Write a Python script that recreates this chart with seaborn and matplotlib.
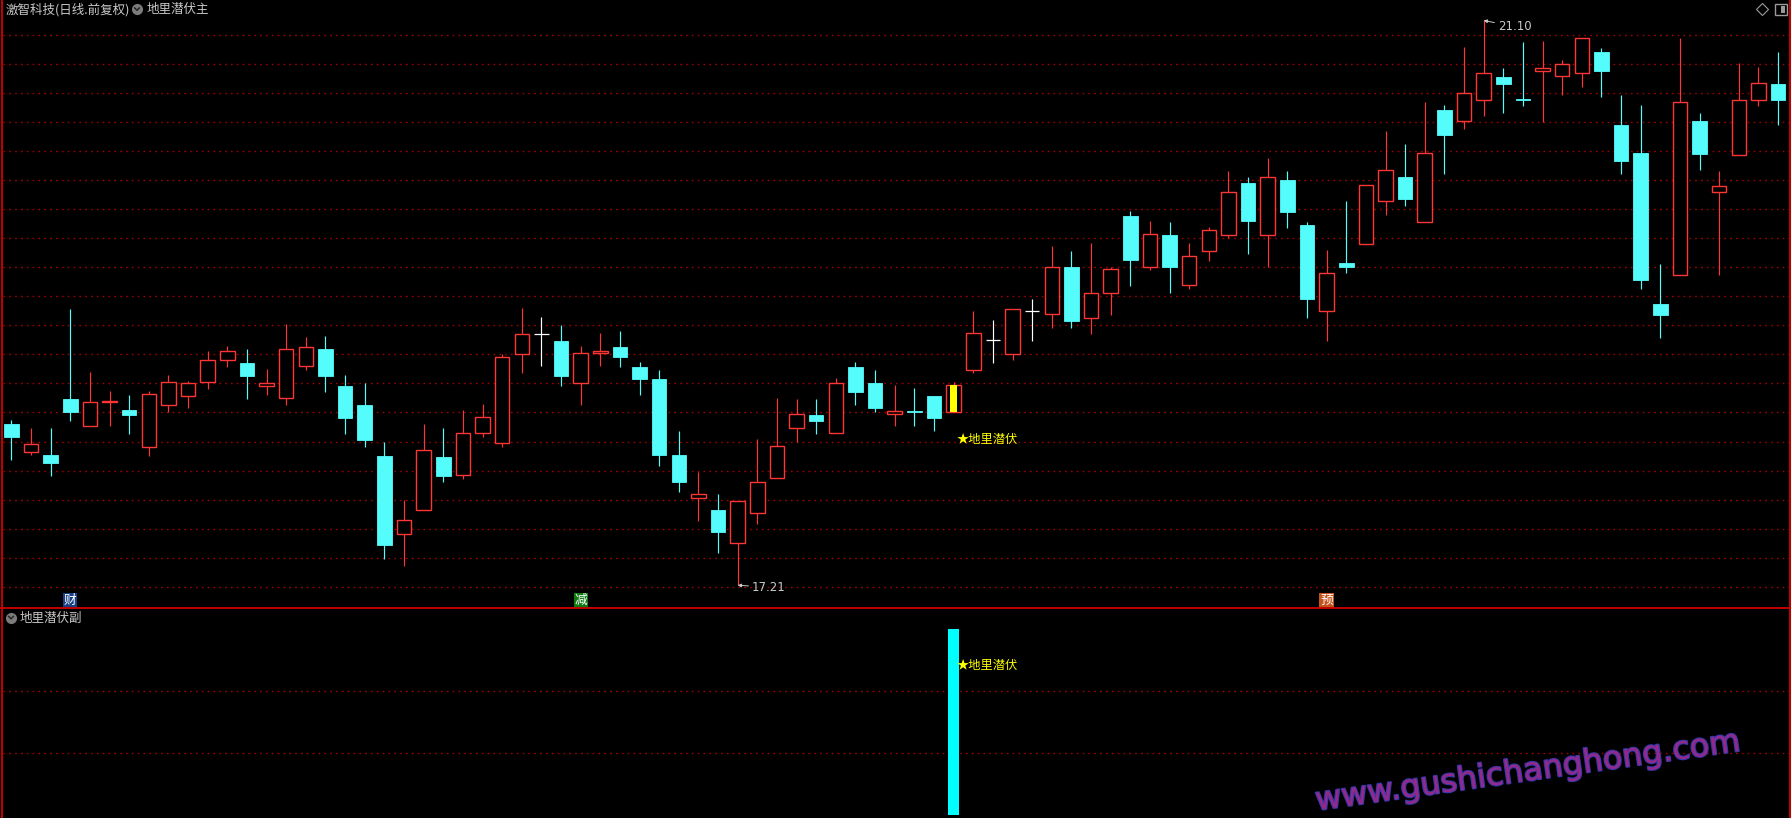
import numpy as np
import pandas as pd
import matplotlib
matplotlib.use("Agg")
import matplotlib.pyplot as plt
import seaborn as sns
from matplotlib.lines import Line2D
from matplotlib.patches import Rectangle
import matplotlib.patheffects as pe

# ---------------- data ----------------
opens = [18.32, 18.13, 18.11, 18.49, 18.31, 18.47, 18.42, 18.16, 18.45, 18.51,
         18.61, 18.76, 18.74, 18.58, 18.50, 18.72, 18.84, 18.58, 18.45, 18.10,
         17.56, 17.73, 18.09, 17.97, 18.26, 18.19, 18.80, 18.94, 18.89, 18.60,
         18.81, 18.85, 18.71, 18.63, 18.11, 17.81, 17.73, 17.50, 17.71, 17.95,
         18.29, 18.38, 18.26, 18.71, 18.60, 18.39, 18.41, 18.51, 18.40, 18.69,
         18.90, 18.80, 19.10, 19.08, 19.40, 19.05, 19.22, 19.75, 19.40, 19.62,
         19.28, 19.51, 19.62, 19.98, 19.62, 20.00, 19.69, 19.10, 19.43, 19.56,
         19.86, 20.02, 19.71, 20.48, 20.41, 20.55, 20.71, 20.56, 20.75, 20.72,
         20.74, 20.88, 20.38, 20.19, 19.15, 19.35, 20.41, 19.92, 20.17, 20.55,
         20.66]
highs = [18.35, 18.29, 18.29, 19.11, 18.68, 18.55, 18.52, 18.55, 18.66, 18.62,
         18.82, 18.86, 18.84, 18.70, 19.01, 18.92, 18.93, 18.66, 18.60, 18.20,
         17.80, 18.32, 18.29, 18.42, 18.46, 18.80, 19.12, 19.06, 19.00, 18.86,
         18.95, 18.96, 18.75, 18.69, 18.27, 17.99, 17.84, 17.79, 18.22, 18.50,
         18.49, 18.49, 18.64, 18.75, 18.69, 18.59, 18.57, 18.51, 18.61, 19.10,
         19.04, 19.11, 19.18, 19.55, 19.51, 19.57, 19.40, 19.79, 19.72, 19.71,
         19.57, 19.68, 20.06, 20.02, 20.15, 20.06, 19.71, 19.52, 19.86, 19.97,
         20.34, 20.25, 20.54, 20.52, 20.92, 21.10, 20.77, 20.95, 20.96, 20.83,
         20.98, 20.91, 20.59, 20.52, 19.42, 20.98, 20.46, 20.06, 20.81, 20.78,
         20.88]
lows = [18.07, 18.11, 17.96, 18.34, 18.31, 18.31, 18.25, 18.10, 18.40, 18.43,
        18.56, 18.71, 18.49, 18.52, 18.45, 18.69, 18.54, 18.25, 18.16, 17.39,
        17.34, 17.73, 17.92, 17.94, 18.23, 18.16, 18.67, 18.72, 18.58, 18.45,
        18.72, 18.71, 18.52, 18.03, 17.85, 17.65, 17.43, 17.21, 17.63, 17.95,
        18.20, 18.25, 18.26, 18.45, 18.40, 18.31, 18.31, 18.27, 18.40, 18.67,
        18.74, 18.76, 18.89, 18.98, 18.98, 18.94, 19.07, 19.27, 19.38, 19.22,
        19.25, 19.44, 19.60, 19.49, 19.40, 19.67, 19.05, 18.89, 19.36, 19.56,
        19.76, 19.82, 19.71, 20.04, 20.35, 20.44, 20.46, 20.51, 20.40, 20.59,
        20.64, 20.57, 20.04, 19.25, 18.91, 19.35, 20.07, 19.35, 20.17, 20.51,
        20.38]
closes = [18.23, 18.18, 18.05, 18.40, 18.47, 18.48, 18.38, 18.53, 18.61, 18.60,
          18.76, 18.82, 18.65, 18.60, 18.84, 18.85, 18.65, 18.36, 18.21, 17.49,
          17.66, 18.14, 17.96, 18.26, 18.37, 18.78, 18.94, 18.94, 18.65, 18.81,
          18.82, 18.78, 18.63, 18.11, 17.92, 17.84, 17.58, 17.79, 17.92, 18.17,
          18.39, 18.34, 18.60, 18.54, 18.43, 18.41, 18.40, 18.36, 18.59, 18.95,
          18.90, 19.11, 19.10, 19.40, 19.03, 19.22, 19.39, 19.45, 19.63, 19.40,
          19.48, 19.66, 19.92, 19.72, 20.02, 19.78, 19.18, 19.36, 19.40, 19.97,
          20.07, 19.87, 20.19, 20.31, 20.60, 20.74, 20.66, 20.55, 20.77, 20.80,
          20.98, 20.75, 20.13, 19.31, 19.07, 20.54, 20.18, 19.96, 20.55, 20.67,
          20.55]

signal_x = [48]          # candle carrying the 地里潜伏 signal
signal_val = [3]         # sub-panel bar height
mark_idx = [3, 29, 67]
mark_text = ["财", "减", "预"]
mark_bg = ["#173f86", "#0f7a14", "#c4521c"]
max_idx, max_label = 75, "21.10"
min_idx, min_label = 37, "17.21"
grid_levels = [17.2, 17.4, 17.6, 17.8, 18.0, 18.2, 18.4, 18.6, 18.8, 19.0,
               19.2, 19.4, 19.6, 19.8, 20.0, 20.2, 20.4, 20.6, 20.8, 21.0]
sub_grid = [1, 2]

df = pd.DataFrame({"open": opens, "high": highs, "low": lows, "close": closes})
df["x"] = np.arange(len(df))

# ---------------- style ----------------
sns.set_theme(style="dark", rc={"axes.facecolor": "black", "figure.facecolor": "black",
                                "savefig.facecolor": "black"})
CJK = ["Noto Sans CJK SC", "DejaVu Sans"]
plt.rcParams["font.family"] = CJK
plt.rcParams["axes.unicode_minus"] = False

W, H = 1791, 818
fig = plt.figure(figsize=(W / 100, H / 100), dpi=100, facecolor="black")


def fx(x):
    return x / W


def fy(y):
    return 1 - y / H


RED = "#ff3434"
CYAN = "#54fcfc"
GRID = "#a00000"
BORDER = "#c40000"
TXT = "#c8c8c8"

ax = fig.add_axes([fx(3), fy(608), fx(1789) - fx(3), fy(18) - fy(608)])
ax2 = fig.add_axes([fx(3), 0, fx(1789) - fx(3), fy(609)])

for a in (ax, ax2):
    a.set_facecolor("black")
    for s in a.spines.values():
        s.set_visible(False)
    a.tick_params(left=False, bottom=False, labelleft=False, labelbottom=False)

# ---------------- candles ----------------
up = df["close"] > df["open"]
down = df["close"] < df["open"]
flat = df["close"] == df["open"]
wick_colors = np.where(up, RED, np.where(down, CYAN, "#ffffff"))
ax.vlines(df["x"], df["low"], df["high"], colors=wick_colors, linewidth=0.85, zorder=2)

bw = 0.74
bottom = df[["open", "close"]].min(axis=1)
height = (df["close"] - df["open"]).abs()
ax.bar(df["x"][up], height[up], bottom=bottom[up], width=bw, facecolor="black",
       edgecolor=RED, linewidth=1.0, zorder=3)
ax.bar(df["x"][down], height[down], bottom=bottom[down], width=bw, facecolor=CYAN,
       edgecolor=CYAN, linewidth=0.6, zorder=3)
ax.bar(df["x"][flat], height[flat], bottom=bottom[flat], width=bw, facecolor="white",
       edgecolor="white", linewidth=0.9, zorder=3)
# highlighted signal candle
sx = signal_x[0]
ax.bar(sx, closes[sx] - opens[sx], bottom=opens[sx], width=0.34, color="#ffff00",
       linewidth=0, zorder=4)

ax.set_yticks(grid_levels)
ax.grid(False)
for v in grid_levels:
    ax.axhline(v, color=GRID, linestyle=(0, (1.2, 3.0)), linewidth=1.0, zorder=1)

ax.set_xlim((3 - 11.4) / 19.63, (1789 - 11.4) / 19.63)
ax.set_ylim(21.0 - (608 - 35) / 145.18, 21.0 + (35 - 18) / 145.18)

# max / min labels
ax.annotate(max_label, xy=(max_idx, highs[max_idx]), xytext=(14, -6),
            textcoords="offset pixels", ha="left", va="center", color=TXT,
            fontsize=8.5, family="DejaVu Sans",
            arrowprops=dict(arrowstyle="-|>", color=TXT, lw=0.7, mutation_scale=5,
                            shrinkA=0, shrinkB=0), zorder=6)
ax.annotate(min_label, xy=(min_idx, lows[min_idx]), xytext=(14, -2),
            textcoords="offset pixels", ha="left", va="center", color=TXT,
            fontsize=8.5, family="DejaVu Sans",
            arrowprops=dict(arrowstyle="-|>", color=TXT, lw=0.7, mutation_scale=5,
                            shrinkA=0, shrinkB=0), zorder=6)

# signal text in main panel
ax.text(sx + 0.17, 21.0 - (440 - 35) / 145.18, "★地里潜伏", color="#ffff00",
        fontsize=8.8, ha="left", va="center", family=CJK, zorder=6)

# bottom badges
for i, t, c in zip(mark_idx, mark_text, mark_bg):
    ax.text(i, 21.0 - (600.5 - 35) / 145.18, t, color="white", fontsize=9.2,
            ha="center", va="center", family=CJK, zorder=6,
            bbox=dict(boxstyle="square,pad=0.06", facecolor=c, edgecolor="none"))

# ---------------- sub panel ----------------
sns.barplot(x=signal_x, y=signal_val, native_scale=True, width=0.53, color="#00ffff",
            saturation=1, linewidth=0, edgecolor="none", ax=ax2, zorder=3)
ax2.set_xlabel("")
ax2.set_ylabel("")
for v in sub_grid:
    ax2.axhline(v, color=GRID, linestyle=(0, (1.2, 3.0)), linewidth=1.0, zorder=1)
ax2.set_xlim((3 - 11.4) / 19.63, (1789 - 11.4) / 19.63)
ax2.set_ylim((815 - 818) / 62, (815 - 609) / 62)
ax2.text(sx + 0.17, (815 - 666) / 62, "★地里潜伏", color="#ffff00", fontsize=8.8,
         ha="left", va="center", family=CJK, zorder=6)

# watermark
wm = fig.text(fx(1528), fy(772), "www.gushichanghong.com", rotation=8,
              ha="center", va="center", fontsize=23, color="#93298a",
              family="DejaVu Sans", zorder=10)
wm.set_path_effects([pe.withStroke(linewidth=1.6, foreground="#3636a8")])

# ---------------- frame / header ----------------
fig.add_artist(Line2D([fx(2), fx(2)], [0, 1], color=BORDER, lw=1.4, transform=fig.transFigure))
fig.add_artist(Line2D([fx(1789.5), fx(1789.5)], [0, 1], color=BORDER, lw=1.4,
                      transform=fig.transFigure))
fig.add_artist(Line2D([0, 1], [fy(608), fy(608)], color=BORDER, lw=1.4,
                      transform=fig.transFigure))

fig.text(fx(6), fy(9.5), "激智科技(日线.前复权)", color=TXT, fontsize=9,
         ha="left", va="center", family=CJK)


def dropdown_icon(x, y):
    fig.add_artist(Line2D([fx(x)], [fy(y)], marker="o", markersize=8, color="#7c7c7c",
                          markeredgewidth=0, transform=fig.transFigure))
    fig.add_artist(Line2D([fx(x - 2.5), fx(x), fx(x + 2.5)], [fy(y - 1.2), fy(y + 1.3), fy(y - 1.2)],
                          color="#262626", lw=1.1, transform=fig.transFigure))


dropdown_icon(137, 9)
fig.text(fx(147), fy(9.5), "地里潜伏主", color=TXT, fontsize=9, ha="left", va="center",
         family=CJK)
dropdown_icon(11, 617.5)
fig.text(fx(20), fy(618), "地里潜伏副", color=TXT, fontsize=9, ha="left", va="center",
         family=CJK)

# top-right icons
fig.add_artist(Line2D([fx(1762)], [fy(9.3)], marker="D", markersize=6.5, fillstyle="none",
                      color="#9a9a9a", markeredgewidth=0.8, transform=fig.transFigure))
fig.add_artist(Rectangle((fx(1775), fy(14.5)), fx(12), 10.5 / H, fill=False,
                         edgecolor="#9a9a9a", lw=1.0, transform=fig.transFigure))
fig.add_artist(Rectangle((fx(1781), fy(12.5)), fx(4), 6.5 / H, facecolor="#9a9a9a",
                         edgecolor="none", transform=fig.transFigure))

fig.savefig("out.png", dpi=100, facecolor="black")
